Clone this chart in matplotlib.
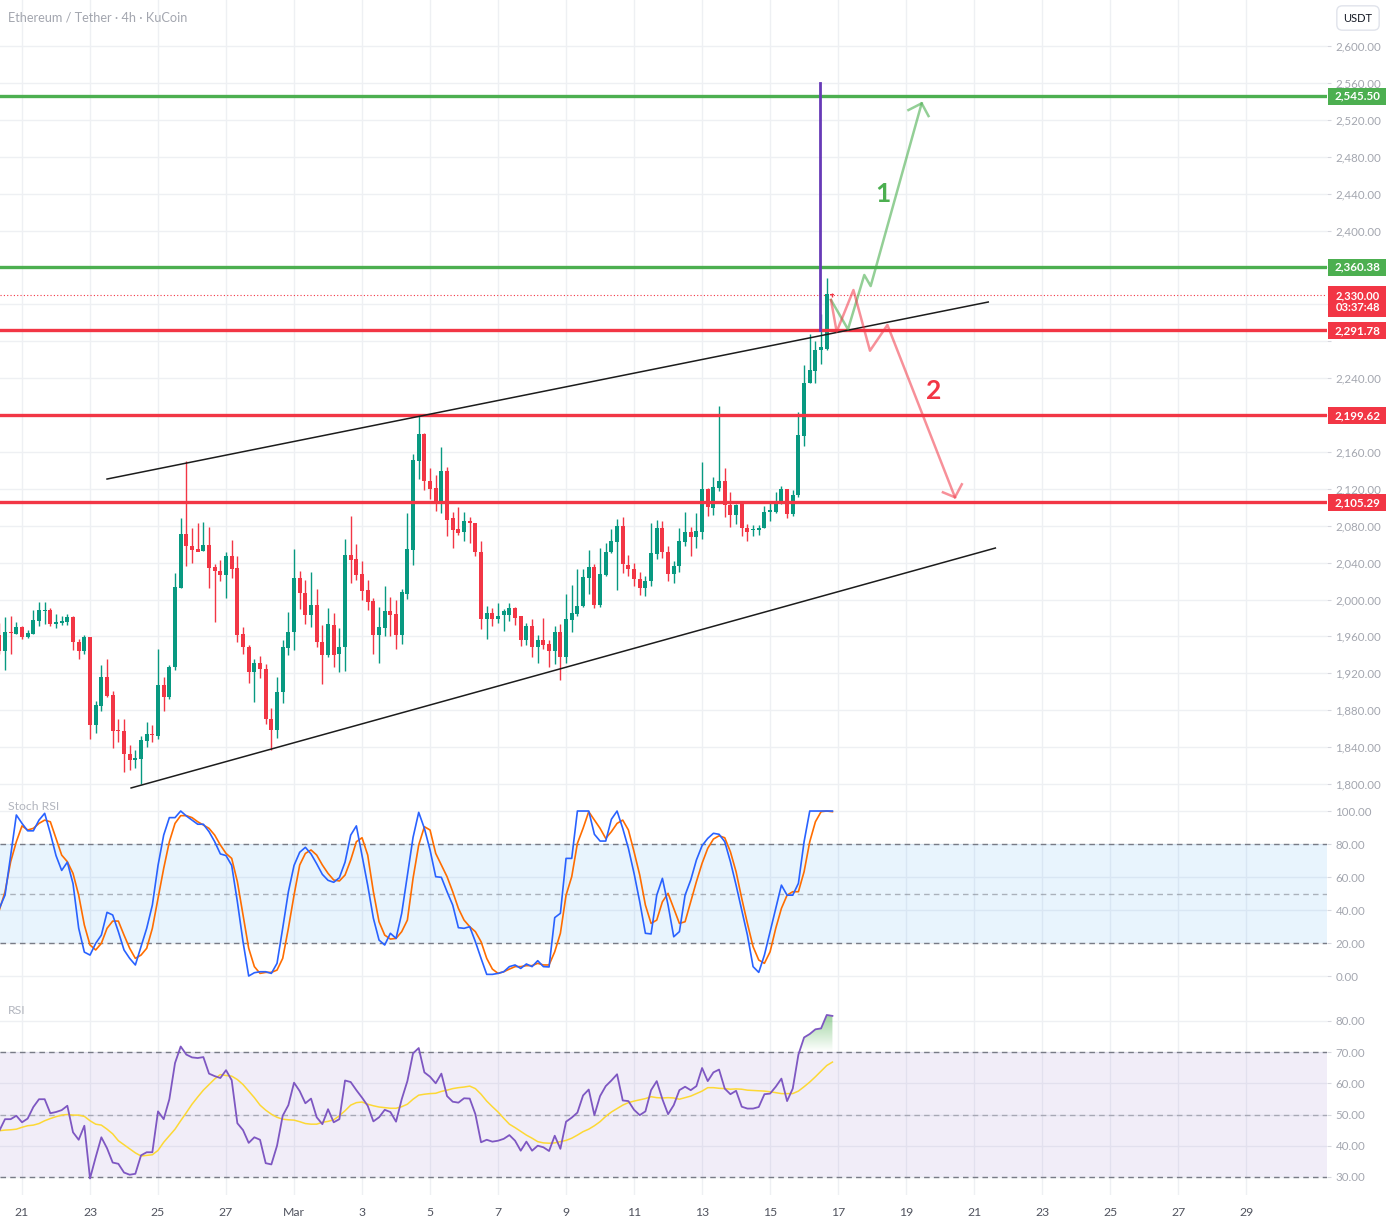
import numpy as np
import pandas as pd
import matplotlib
matplotlib.use('Agg')
import matplotlib.pyplot as plt
import matplotlib.dates as mdates
from matplotlib.patches import Rectangle
from matplotlib.path import Path
from matplotlib.ticker import FuncFormatter
from matplotlib.transforms import blended_transform_factory
from matplotlib.colors import LinearSegmentedColormap

plt.rcParams['font.family'] = ['Lato', 'DejaVu Sans']

# ---- data (ETH/USDT 4h candles) ----
candle_start = '2025-02-20 08:00'

opens = [1962, 1944, 1965, 1963, 1970, 1959, 1963, 1977, 1988, 1989,
         1973, 1975, 1976, 1981, 1954, 1944, 1959, 1864, 1885, 1916,
         1896, 1858, 1857, 1833, 1826, 1827, 1847, 1854, 1852, 1907,
         1894, 1927, 2013, 2071, 2058, 2055, 2053, 2059, 2035, 2031,
         2027, 2047, 2034, 1963, 1949, 1921, 1931, 1925, 1870, 1858,
         1900, 1947, 1965, 2023, 2007, 1983, 1994, 1954, 1940, 1972,
         1941, 1948, 2048, 2044, 2028, 2010, 1998, 1961, 1969, 1987,
         1984, 1961, 2006, 2054, 2150, 2179, 2128, 2121, 2106, 2139,
         2088, 2076, 2073, 2085, 2083, 2052, 1979, 1985, 1979, 1983,
         1983, 1991, 1982, 1956, 1971, 1948, 1956, 1952, 1944, 1965,
         1938, 1978, 1984, 1993, 2023, 2035, 1994, 2027, 2051, 2062,
         2080, 2037, 2033, 2022, 2012, 2020, 2049, 2077, 2052, 2028,
         2036, 2062, 2073, 2068, 2073, 2120, 2099, 2121, 2129, 2102,
         2092, 2103, 2077, 2075, 2075, 2077, 2095, 2095, 2104, 2120,
         2093, 2113, 2177, 2235, 2248, 2270, 2272, 2331]
highs = [1975, 1981, 1982, 1976, 1971, 1967, 1989, 1997, 1997, 1991,
         1984, 1982, 1984, 1982, 1957, 1962, 1959, 1890, 1929, 1936,
         1901, 1870, 1870, 1842, 1837, 1852, 1867, 1864, 1946, 1916,
         1929, 2029, 2088, 2150, 2077, 2083, 2084, 2079, 2039, 2043,
         2051, 2065, 2047, 1970, 1951, 1935, 1939, 1930, 1882, 1916,
         1956, 1986, 2055, 2031, 2021, 2030, 2011, 1972, 1991, 1985,
         1969, 2066, 2091, 2060, 2042, 2021, 2002, 1992, 2015, 2003,
         2000, 2011, 2094, 2158, 2199, 2181, 2143, 2135, 2165, 2144,
         2095, 2100, 2095, 2089, 2083, 2063, 1993, 1991, 1996, 1990,
         1996, 1992, 1982, 1975, 1979, 1961, 1980, 1956, 1971, 1973,
         2006, 2016, 2033, 2033, 2054, 2039, 2056, 2061, 2076, 2087,
         2089, 2048, 2040, 2030, 2025, 2083, 2086, 2085, 2058, 2042,
         2077, 2095, 2079, 2094, 2149, 2121, 2133, 2210, 2143, 2116,
         2104, 2103, 2082, 2081, 2081, 2101, 2107, 2116, 2123, 2120,
         2119, 2203, 2254, 2288, 2280, 2309, 2348, 2332]
lows = [1941, 1924, 1941, 1963, 1957, 1958, 1963, 1971, 1973, 1971,
        1969, 1972, 1972, 1945, 1936, 1941, 1849, 1855, 1879, 1894,
        1839, 1846, 1813, 1815, 1817, 1800, 1840, 1846, 1849, 1879,
        1892, 1924, 2013, 2036, 2040, 2053, 2053, 2013, 1976, 2020,
        2002, 2023, 1954, 1941, 1909, 1889, 1915, 1865, 1837, 1850,
        1888, 1940, 1945, 1990, 1973, 1970, 1948, 1908, 1938, 1927,
        1921, 1923, 2018, 2021, 1999, 1989, 1941, 1931, 1960, 1960,
        1946, 1952, 2001, 2037, 2131, 2119, 2109, 2096, 2094, 2069,
        2056, 2070, 2063, 2061, 2047, 1968, 1957, 1971, 1974, 1966,
        1977, 1972, 1950, 1951, 1938, 1931, 1946, 1927, 1930, 1913,
        1931, 1965, 1982, 1992, 2006, 1991, 1992, 2026, 2050, 2010,
        2029, 2025, 2015, 2005, 2004, 2015, 2044, 2045, 2020, 2018,
        2030, 2058, 2047, 2056, 2066, 2091, 2092, 2118, 2089, 2079,
        2082, 2069, 2063, 2069, 2070, 2077, 2085, 2094, 2103, 2088,
        2090, 2111, 2166, 2235, 2235, 2255, 2271, 2328]
closes = [1944, 1965, 1964, 1970, 1959, 1964, 1978, 1989, 1989, 1973,
          1976, 1977, 1981, 1954, 1944, 1959, 1864, 1886, 1916, 1895,
          1857, 1857, 1832, 1826, 1828, 1848, 1854, 1853, 1907, 1894,
          1927, 2014, 2071, 2058, 2054, 2052, 2059, 2034, 2031, 2027,
          2047, 2033, 1962, 1948, 1921, 1931, 1925, 1870, 1858, 1900,
          1948, 1965, 2023, 2007, 1983, 1994, 1954, 1940, 1973, 1940,
          1949, 2048, 2043, 2027, 2009, 1997, 1961, 1970, 1987, 1983,
          1961, 2008, 2055, 2151, 2179, 2128, 2120, 2106, 2139, 2086,
          2075, 2072, 2085, 2083, 2051, 1979, 1985, 1979, 1982, 1987,
          1991, 1980, 1956, 1971, 1948, 1956, 1951, 1944, 1965, 1938,
          1979, 1985, 1993, 2024, 2035, 1994, 2028, 2052, 2063, 2080,
          2038, 2033, 2022, 2012, 2020, 2050, 2077, 2052, 2028, 2036,
          2063, 2073, 2068, 2074, 2120, 2100, 2122, 2129, 2102, 2092,
          2102, 2077, 2073, 2076, 2077, 2095, 2097, 2106, 2120, 2093,
          2113, 2178, 2235, 2249, 2270, 2274, 2331, 2330]

stoch_k = [41, 49, 73, 97.6, 92.5, 88, 88, 94.5, 98.6, 86.5,
           73, 64, 69, 56, 29, 14.5, 12.7, 19.8, 24.8, 38.6,
           37, 26.9, 15.8, 10.7, 6.7, 17.8, 28.9, 43, 67, 85.4,
           96, 96, 100, 97, 94.5, 92, 92, 87.5, 81.4, 74,
           73, 67, 45, 20.8, 0, 2, 2.6, 2.6, 1.6, 7.7,
           29, 51, 67, 75, 78, 74, 68, 61.6, 58, 56.8,
           59.6, 69, 85.4, 91, 73, 55, 35, 21.8, 18.8, 25.9,
           22.8, 38, 61, 84, 99.2, 89.5, 76.4, 60.2, 59.8, 51.1,
           43, 29.3, 28.9, 29.9, 20.8, 10.7, 1, 1, 1.6, 2.6,
           5.7, 6.7, 4.6, 7.3, 5.7, 9.3, 5.7, 5.5, 35.4, 38,
           71.3, 71.3, 100, 100, 100, 85.9, 81.8, 81.8, 95, 100,
           89.5, 77.4, 62.2, 45, 25.9, 25.5, 49, 59.2, 43, 23.8,
           26.9, 49, 58.2, 70.3, 79, 83.4, 86.5, 85.9, 81.4, 69.3,
           55.1, 40, 24.8, 5.7, 2.2, 12.7, 26.9, 41, 55.1, 49,
           49, 56.2, 81.4, 100, 100, 100, 100, 100]
stoch_d = [40, 51, 69.3, 81.4, 91, 88.5, 89.5, 92.5, 94.5, 93.5,
           83.4, 73.3, 69.3, 62.2, 49, 30.9, 18.8, 15.8, 19.8, 28.9,
           33.3, 33.3, 24.8, 16.8, 10.7, 12.7, 16.8, 28.9, 47, 65.2,
           81.4, 92.5, 97.2, 97.2, 96, 93.5, 91.5, 89.5, 85.4, 79.4,
           74.3, 71.3, 57.2, 37, 16.8, 5.7, 1.6, 2.2, 2.2, 3.6,
           10.7, 28.9, 49, 67.3, 74.3, 76.4, 73.3, 67.3, 62.2, 58.2,
           57.6, 61.2, 70.3, 81.4, 83.8, 73.3, 51.1, 32.9, 24.8, 22.4,
           22.8, 26.9, 33.9, 59.2, 79.4, 90.5, 88.5, 74.3, 67.3, 60.2,
           51.1, 41, 33.9, 29.9, 26.9, 20.8, 10.7, 4.2, 1.6, 2.6,
           4.2, 5.7, 5.7, 6.3, 6.3, 7.7, 6.7, 6.7, 14.7, 25.9,
           49, 60.2, 80.4, 89.5, 99.6, 94.5, 89.5, 83.4, 87.5, 92.5,
           94.5, 88.5, 75.3, 61.2, 43, 31.9, 33.9, 45, 50.1, 41,
           31.9, 32.9, 45, 57.2, 68.3, 77.4, 83, 85, 83.8, 75.3,
           63.2, 47, 31.9, 17.8, 9.7, 7.7, 14.7, 28.9, 41, 49,
           51.1, 51.1, 63.2, 81.4, 93.5, 99.6, 100, 99.6]

rsi = [44.8, 48.5, 48.5, 49.6, 47.5, 48.7, 52.4, 54.9, 54.9, 50.4,
       50.8, 51.4, 52.8, 44.3, 41.9, 46.4, 29.5, 36.3, 42.7, 39.2,
       34.6, 34.2, 31.4, 30.7, 31, 36.9, 37.9, 37.9, 51, 48.5,
       54.9, 66.5, 71.8, 69.2, 68.3, 68.1, 68.4, 63.1, 62.3, 61.7,
       64.2, 61, 47.2, 45, 40.9, 42.7, 41.9, 34.4, 34, 40,
       49.6, 53, 60.2, 57.5, 53.6, 55.1, 49.1, 46.9, 51.7, 47.5,
       48.5, 60.9, 60.4, 57.8, 55.4, 52.8, 47.8, 49.1, 51.5, 50.8,
       47.7, 54.9, 60.7, 69.6, 71.3, 63.5, 62.1, 60, 63.1, 55.9,
       54.1, 53.8, 55.2, 55.1, 50.1, 41.1, 41.9, 41.3, 41.6, 42.2,
       43.4, 41.6, 38.4, 41.3, 38.4, 40, 39.5, 38.3, 43.2, 39,
       47.7, 49, 50.6, 56.1, 58, 49.8, 55.9, 59.1, 60.9, 62.9,
       54.5, 54.3, 51.5, 49.8, 51, 57.8, 60.7, 54.9, 50.1, 53,
       57.8, 58.9, 57.8, 59.1, 64.9, 60.7, 63.5, 64.4, 58.3, 56.5,
       57.6, 52.5, 51.9, 51.9, 52.4, 56.5, 56.7, 58.9, 61.5, 54.3,
       58.3, 69.2, 74.7, 75.8, 77.3, 77.6, 81.9, 81.6]
rsi_ma = [44.8, 45, 45.1, 45.3, 45.9, 46.4, 46.6, 47.1, 48, 48.7,
          49.3, 49.8, 50, 49.8, 49.8, 49.4, 48, 46.9, 46.6, 45.3,
          43.8, 41.6, 40.3, 39, 37.7, 36.7, 36.9, 37.1, 38.5, 41.1,
          43.2, 45.3, 48, 50.6, 53.3, 55.6, 57.8, 59.6, 61.4, 62.8,
          62.5, 62.3, 61.2, 59.6, 57.5, 55.4, 53, 51.4, 50.1, 49.1,
          48.5, 48.3, 48.2, 47.7, 47.1, 46.9, 46.9, 47.5, 47.8, 48.3,
          49.6, 51.2, 53, 53.8, 54, 53.3, 52.8, 52.4, 52.2, 52,
          52, 52.5, 53.3, 54.9, 56.2, 56.5, 56.7, 56.8, 57.4, 57.8,
          58.3, 58.6, 58.8, 59.1, 58.3, 56.5, 54.3, 52.5, 50.8, 48.8,
          46.9, 45.8, 44.6, 43.4, 42.4, 41.3, 40.9, 40.8, 40.9, 41.3,
          41.7, 42.4, 43.4, 44.5, 45.3, 46.4, 47.7, 49.4, 50.8, 51.9,
          53, 53.8, 54.3, 54.7, 55.1, 55.7, 55.4, 55.3, 55.4, 55.3,
          54.9, 55.4, 55.9, 56.7, 57.5, 58.6, 58.6, 58.4, 58.3, 58.1,
          58.2, 58.1, 57.8, 57.7, 57.6, 57.5, 57.3, 57, 56.7, 56.7,
          56.7, 57.5, 58.9, 60.4, 62.1, 63.9, 65.7, 66.8]

# horizontal levels drawn on the chart
green_levels = [2545.50, 2360.38]
red_levels = [2291.78, 2199.62, 2105.29]
last_price = 2330.00
countdown = '03:37:48'

# drawings
upper_t = ['2025-02-23 12:00', '2025-03-21 10:00']
upper_p = [2130.6, 2322.5]
lower_t = ['2025-02-24 05:00', '2025-03-21 15:00']
lower_p = [1795.7, 2055.8]
vline_t = '2025-03-16 11:30'
vline_p = [2291.78, 2560]
bull_t = ['2025-03-16 19:00', '2025-03-17 07:00', '2025-03-17 18:30',
          '2025-03-17 23:00', '2025-03-19 11:00']
bull_p = [2324.7, 2292.9, 2351.8, 2339.8, 2537.9]
bull_head_t = ['2025-03-19 01:40', '2025-03-19 11:00', '2025-03-19 15:50']
bull_head_p = [2530.6, 2537.9, 2524.1]
bear_t = ['2025-03-16 19:00', '2025-03-16 23:00', '2025-03-17 10:50',
          '2025-03-17 22:30', '2025-03-18 10:50', '2025-03-20 10:30']
bear_p = [2324.7, 2290.3, 2335.5, 2269.7, 2297.6, 2110.8]
bear_head_t = ['2025-03-20 02:00', '2025-03-20 10:30', '2025-03-20 15:20']
bear_head_p = [2116.2, 2110.8, 2124.9]
label1 = ('2025-03-18 07:40', 2440)
label2 = ('2025-03-19 19:40', 2226)

view = ('2025-02-20 08:28', '2025-03-31 09:05')
date_ticks = pd.date_range('2025-02-21', '2025-03-29', freq='2D')

# ---- colours ----
UP = '#089981'
DOWN = '#f23645'
LGREEN = '#4caf50'
GRID = '#eef0f3'
AXTXT = '#a3a6af'


def dn(s):
    return mdates.date2num(pd.Timestamp(s))


def dns(lst):
    return [dn(s) for s in lst]


times = pd.date_range(candle_start, periods=len(opens), freq='4h')
x = mdates.date2num(times)
o, h, l, c = map(np.array, (opens, highs, lows, closes))

W, H = 1393, 1226
fig = plt.figure(figsize=(W / 100, H / 100), dpi=100)


def pane(top, bottom, share=None):
    return fig.add_axes([0, 1 - bottom / H, 1327 / W, (bottom - top) / H], sharex=share)


ax1 = pane(0, 797)
ax2 = pane(797, 995, ax1)
ax3 = pane(995, 1195, ax1)

for ax in (ax1, ax2, ax3):
    for s in ax.spines.values():
        s.set_visible(False)
    ax.set_axisbelow(True)
    ax.grid(True, color=GRID, lw=1)
    ax.yaxis.tick_right()
    ax.tick_params(axis='y', length=3, color='#d6d8de', pad=3, labelsize=8.3, labelcolor=AXTXT)
    ax.set_xticks(mdates.date2num(date_ticks))

ax1.tick_params(axis='x', length=0, labelbottom=False)
ax2.tick_params(axis='x', length=0, labelbottom=False)
ax3.tick_params(axis='x', length=0, pad=9, labelsize=8.8, labelcolor='#50535e')
ax3.set_xticklabels(['Mar' if d.day == 1 else str(d.day) for d in date_ticks])

# ---- price pane ----
col = np.where(c >= o, UP, DOWN)
ax1.vlines(x, l, h, colors=col, lw=1, zorder=3)
ax1.bar(x, np.maximum(np.abs(c - o), 0.8), bottom=np.minimum(o, c), width=0.12,
        color=col, zorder=4)

for lv in green_levels:
    ax1.axhline(lv, color=LGREEN, lw=2.4, zorder=5)
for lv in red_levels:
    ax1.axhline(lv, color=DOWN, lw=2.4, zorder=5)
ax1.axhline(last_price, color=DOWN, lw=0.8, ls=(0, (1, 2)), zorder=2)

ax1.plot(dns(upper_t), upper_p, color='#1c1c1c', lw=1.1, zorder=6)
ax1.plot(dns(lower_t), lower_p, color='#1c1c1c', lw=1.1, zorder=6)
ax1.plot([dn(vline_t)] * 2, vline_p, color='#673ab7', lw=2, zorder=6)

ax1.plot(dns(bull_t), bull_p, color=LGREEN, alpha=0.6, lw=1.8, zorder=7)
ax1.plot(dns(bull_head_t), bull_head_p, color=LGREEN, alpha=0.6, lw=1.8, zorder=7)
ax1.plot(dns(bear_t), bear_p, color=DOWN, alpha=0.55, lw=1.8, zorder=7)
ax1.plot(dns(bear_head_t), bear_head_p, color=DOWN, alpha=0.55, lw=1.8, zorder=7)
ax1.text(dn(label1[0]), label1[1], '1', color=LGREEN, fontsize=19, fontweight='bold',
         ha='center', va='center', zorder=8)
ax1.text(dn(label2[0]), label2[1], '2', color=DOWN, fontsize=19, fontweight='bold',
         ha='center', va='center', zorder=8)

# coloured price tags on the scale
tr = blended_transform_factory(ax1.transAxes, ax1.transData)
ppx = 0.9225  # pixels per price unit
tag_spans = [(lv - 8.5 / ppx, lv + 8.5 / ppx) for lv in green_levels + red_levels]
tag_spans.append((last_price - 22 / ppx, last_price + 9 / ppx))


def price_fmt(v, _):
    # the scale hides ticks sitting under a coloured tag
    for lo, hi in tag_spans:
        if lo - 3 < v < hi + 3:
            return ''
    return f'{v:,.2f}'


ax1.set_yticks(np.arange(1800, 2601, 40))
ax1.yaxis.set_major_formatter(FuncFormatter(price_fmt))
ax1.set_ylim(1785.9, 2649.9)


def tag(y_lo, y_hi, colour, text, ytext, size=8.4):
    ax1.add_patch(Rectangle((1.0008, y_lo), 58 / 1327, y_hi - y_lo, transform=tr,
                            facecolor=colour, edgecolor='none', clip_on=False, zorder=20))
    ax1.text(1357.5 / 1327, ytext, text, transform=tr, ha='center', va='center',
             color='white', fontsize=size, fontweight='bold', clip_on=False, zorder=21,
             linespacing=1.15)


for lv in green_levels:
    tag(lv - 8.5 / ppx, lv + 8.5 / ppx, LGREEN, f'{lv:,.2f}', lv)
for lv in red_levels:
    tag(lv - 8.5 / ppx, lv + 8.5 / ppx, DOWN, f'{lv:,.2f}', lv)
# last price tag carries the bar countdown on a second line
tag(last_price - 22 / ppx, last_price + 9 / ppx, DOWN,
    f'{last_price:,.2f}\n{countdown}', last_price - 6.5 / ppx, size=8.0)

# ---- stoch rsi pane ----
ax2.axhspan(20, 80, color='#2196f3', alpha=0.1, lw=0, zorder=1)
for lv, a in ((80, 1), (50, 0.55), (20, 1)):
    ax2.axhline(lv, color='#787b86', lw=1, ls=(0, (4, 3)), alpha=a, zorder=2)
ax2.plot(x, stoch_k, color='#2962ff', lw=1.2, zorder=4)
ax2.plot(x, stoch_d, color='#ff6d00', lw=1.2, zorder=3)
ax2.set_yticks([0, 20, 40, 60, 80, 100])
ax2.yaxis.set_major_formatter(FuncFormatter(lambda v, _: f'{v:.2f}'))
ax2.set_ylim(-11.5, 108.5)

# ---- rsi pane ----
ax3.axhspan(30, 70, color='#7e57c2', alpha=0.1, lw=0, zorder=1)
for lv, a in ((70, 1), (50, 0.55), (30, 1)):
    ax3.axhline(lv, color='#787b86', lw=1, ls=(0, (4, 3)), alpha=a, zorder=2)
rsi_a = np.array(rsi)
ob = ax3.fill_between(x, rsi_a, 70, where=rsi_a >= 70, interpolate=True,
                      facecolor='none', edgecolor='none')
paths = ob.get_paths()
if paths:
    grad = np.linspace(0, 1, 64).reshape(-1, 1)
    cmap = LinearSegmentedColormap.from_list(
        'ob', [(0.30, 0.69, 0.31, 0.0), (0.30, 0.69, 0.31, 0.55)])
    im = ax3.imshow(grad, cmap=cmap, origin='lower', aspect='auto',
                    extent=[x[0], x[-1], 70, rsi_a.max()], zorder=2, interpolation='bilinear')
    im.set_clip_path(Path.make_compound_path(*paths), ax3.transData)
ax3.plot(x, rsi_ma, color='#fdd835', lw=1.1, zorder=3)
ax3.plot(x, rsi, color='#7e57c2', lw=1.3, zorder=4)
ax3.set_yticks([30, 40, 50, 60, 70, 80])
ax3.yaxis.set_major_formatter(FuncFormatter(lambda v, _: f'{v:.2f}'))
ax3.set_ylim(24.2, 88.3)

ax1.set_xlim(dn(view[0]), dn(view[1]))

# ---- header texts ----
fig.text(8 / W, 1 - 17 / H, 'Ethereum / Tether · 4h · KuCoin', color=AXTXT,
         fontsize=9.2, va='center')
fig.text(8 / W, 1 - 807 / H, 'Stoch RSI', color='#b2b5be', fontsize=8.8, va='center')
fig.text(8 / W, 1 - 1011 / H, 'RSI', color='#b2b5be', fontsize=8.8, va='center')
fig.text(1358 / W, 1 - 18 / H, 'USDT', color='#131722', fontsize=8, ha='center', va='center',
         bbox=dict(boxstyle='round,pad=0.6,rounding_size=0.5', fc='white', ec='#e0e3eb'))

fig.savefig('out.png', dpi=100)
